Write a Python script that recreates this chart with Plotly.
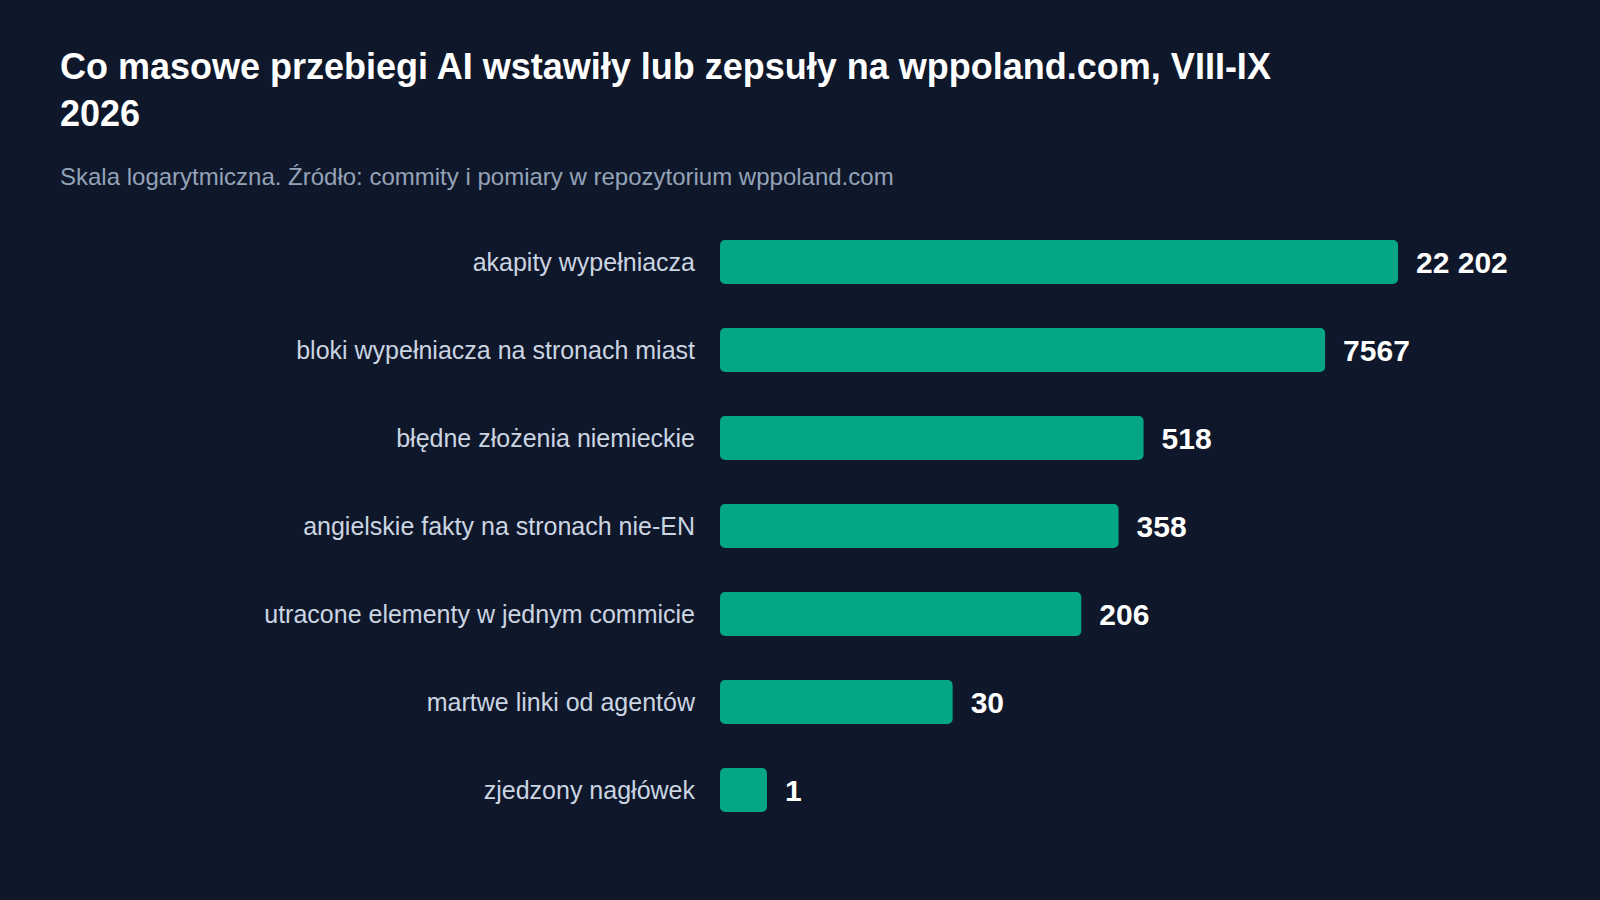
import plotly.graph_objects as go

# values (log scale, counts)
categories = [
    "akapity wypełniacza",
    "bloki wypełniacza na stronach miast",
    "błędne złożenia niemieckie",
    "angielskie fakty na stronach nie-EN",
    "utracone elementy w jednym commicie",
    "martwe linki od agentów",
    "zjedzony nagłówek",
]
values = [22202, 7567, 518, 358, 206, 30, 1]
value_labels = ["22 202", "7567", "518", "358", "206", "30", "1"]

BG = "#0f172a"
BAR = "#05a683"
FONT = "Liberation Sans, Arial, sans-serif"

W, H = 1600, 900
L, R, T, B = 720, 100, 218, 66
pw = W - L - R

fig = go.Figure()
fig.add_bar(
    y=categories,
    x=values,
    base=1,
    orientation="h",
    marker_color=BAR,
    marker_line_width=0,
    width=0.5,
    text=value_labels,
    texttemplate="\u2002%{text}",
    textposition="outside",
    constraintext="none",
    cliponaxis=False,
    textfont=dict(family=FONT, size=30, color="#ffffff", weight="bold"),
    hoverinfo="skip",
)

fig.update_layout(
    width=W,
    height=H,
    paper_bgcolor=BG,
    plot_bgcolor=BG,
    margin=dict(l=L, r=R, t=T, b=B),
    showlegend=False,
    barcornerradius=5,
    font=dict(family=FONT),
    title=dict(
        text="Co masowe przebiegi AI wstawiły lub zepsuły na wppoland.com, VIII-IX<br>2026",
        font=dict(family=FONT, size=36, color="#ffffff", weight="bold"),
        xref="container", yref="container",
        x=60 / W, xanchor="left",
        y=1 - 79 / H, yanchor="top",
    ),
    annotations=[dict(
        text="Skala logarytmiczna. Źródło: commity i pomiary w repozytorium wppoland.com",
        xref="paper", yref="paper",
        x=(58 - L) / pw, xanchor="left",
        y=1 + (T - 176) / (H - T - B), yanchor="middle",
        showarrow=False,
        font=dict(family=FONT, size=24, color="#94a3b8"),
    )],
)

fig.update_xaxes(
    type="log",
    range=[0, 5],
    showgrid=False,
    zeroline=False,
    showticklabels=False,
    showline=False,
)
fig.update_yaxes(
    autorange="reversed",
    showgrid=False,
    zeroline=False,
    showline=False,
    ticks="",
    ticklabelstandoff=24,
    tickfont=dict(family=FONT, size=25, color="#cbd5e1"),
)

fig.write_html(
    "out.html",
    config={"displayModeBar": False},
    post_script="document.body.style.margin='0';document.body.style.background='" + BG + "';",
)
